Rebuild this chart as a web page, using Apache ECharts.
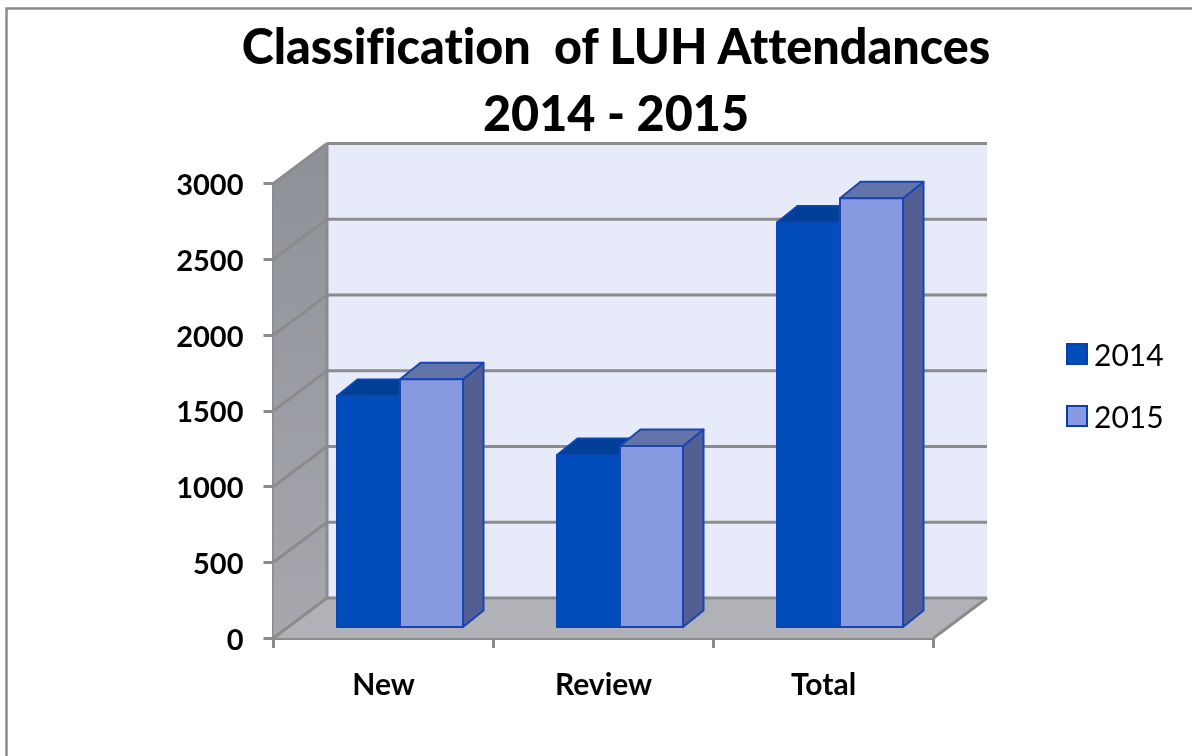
<!DOCTYPE html>
<html><head><meta charset="utf-8">
<script src="https://cdn.jsdelivr.net/npm/echarts@6/dist/echarts.min.js"></script>
<style>html,body{margin:0;padding:0;background:#fff}#c{width:1192px;height:756px;filter:blur(0.5px)}#c text{font-variant-ligatures:none}</style>
</head><body><div id="c"></div>
<script>
const categories = ['New', 'Review', 'Total'];
const values2014 = [1525, 1135, 2670];
const values2015 = [1635, 1195, 2830];
const yTicks = [0, 500, 1000, 1500, 2000, 2500, 3000];

const FONT = 'Lato';
const GRID_LINE = '#8b8b8b';
const chart = echarts.init(document.getElementById('c'), null, { renderer: 'svg' });

const DEPTH_X = 53.5, DEPTH_Y = -40;      // wall depth
const BAR_DX = 20.5, BAR_DY = -16.5;      // bar depth
const PLANE_DX = 16.5, PLANE_DY = -11;    // bars stand slightly behind the front edge
const BAR_W = 63;

function poly(points, fill, stroke, lw) {
  return { type: 'polygon', shape: { points }, style: { fill, stroke: stroke || null, lineWidth: lw || 0, lineJoin: 'round' } };
}
function line(x1, y1, x2, y2) {
  return { type: 'line', shape: { x1, y1, x2, y2 }, style: { stroke: GRID_LINE, lineWidth: 3 } };
}

function renderWalls(params, api) {
  const r = params.coordSys;
  const L = r.x, R = r.x + r.width;
  const y0 = api.coord([0, 0])[1], yT = api.coord([0, yTicks[yTicks.length - 1]])[1];
  const ch = [
    poly([[L + DEPTH_X, yT + DEPTH_Y], [R + DEPTH_X, yT + DEPTH_Y], [R + DEPTH_X, y0 + DEPTH_Y], [L + DEPTH_X, y0 + DEPTH_Y]], '#e7eaf9'),
    poly([[L, y0], [L + DEPTH_X, y0 + DEPTH_Y], [L + DEPTH_X, yT + DEPTH_Y], [L, yT]], {
      type: 'linear', x: 0, y: 0, x2: 0, y2: 1,
      colorStops: [{ offset: 0, color: '#8f9198' }, { offset: 1, color: '#a6a8ae' }]
    }),
    poly([[L, y0], [R, y0], [R + DEPTH_X, y0 + DEPTH_Y], [L + DEPTH_X, y0 + DEPTH_Y]], '#b0b2b8'),
    line(R, y0, R + DEPTH_X, y0 + DEPTH_Y),
    line(L + DEPTH_X, yT + DEPTH_Y, L + DEPTH_X, y0 + DEPTH_Y)
  ];
  yTicks.forEach(t => {
    const y = api.coord([0, t])[1];
    ch.push(line(L, y, L + DEPTH_X, y + DEPTH_Y));
    ch.push(line(L + DEPTH_X, y + DEPTH_Y, R + DEPTH_X, y + DEPTH_Y));
  });
  return { type: 'group', children: ch };
}

function barRenderer(offsetSign, front, top, side, stroke) {
  return function (params, api) {
    const p = api.coord([api.value(0), api.value(1)]);
    const b = api.coord([api.value(0), 0]);
    const x0 = p[0] + PLANE_DX + (offsetSign < 0 ? -BAR_W : 0);
    const x1 = x0 + BAR_W;
    const yt = p[1] + PLANE_DY, yb = b[1] + PLANE_DY;
    return {
      type: 'group',
      children: [
        poly([[x1, yb], [x1 + BAR_DX, yb + BAR_DY], [x1 + BAR_DX, yt + BAR_DY], [x1, yt]], side, stroke, 2),
        poly([[x0, yt], [x1, yt], [x1 + BAR_DX, yt + BAR_DY], [x0 + BAR_DX, yt + BAR_DY]], top, stroke, 2),
        poly([[x0, yb], [x1, yb], [x1, yt], [x0, yt]], front, stroke, 2)
      ]
    };
  };
}

const axisLine = { show: true, lineStyle: { color: GRID_LINE, width: 3 } };
const axisTick = { show: true, length: 10, lineStyle: { color: GRID_LINE, width: 3 } };

chart.setOption({
  animation: false,
  backgroundColor: '#ffffff',
  title: {
    text: 'Classification  of LUH Attendances\n2014 - 2015',
    left: 611, top: 6, textAlign: 'center',
    textStyle: { fontFamily: FONT, fontWeight: 900, fontSize: 48.5, lineHeight: 67, color: '#000' }
  },
  legend: {
    orient: 'vertical', left: 1061, top: 334, itemWidth: 20, itemHeight: 20, itemGap: 32, icon: 'rect',
    data: ['2014', '2015'],
    textStyle: { fontFamily: FONT, fontSize: 30, color: '#000', padding: [0, 0, 0, 2] }
  },
  grid: { left: 273.5, top: 183.5, width: 660, height: 454.5 },
  xAxis: {
    type: 'category', data: categories,
    axisLine, axisTick, splitLine: { show: false },
    axisLabel: { fontFamily: FONT, fontWeight: 'bold', fontSize: 30, color: '#000', margin: 30 }
  },
  yAxis: {
    type: 'value', min: 0, max: 3000, interval: 500,
    axisLine, axisTick, splitLine: { show: false },
    axisLabel: { fontFamily: FONT, fontWeight: 'bold', fontSize: 29, color: '#000', margin: 30, formatter: v => String(v) }
  },
  graphic: [{
    type: 'polyline', silent: true, z: -1,
    shape: { points: [[6.5, 756], [6.5, 8.5], [1192, 8.5]] },
    style: { fill: null, stroke: '#8a8a8a', lineWidth: 2.5 }
  }],
  series: [
    { type: 'custom', name: 'walls', z: 1, clip: false, silent: true, renderItem: renderWalls, encode: { x: 0, y: 1 }, data: [[0, 0]] },
    {
      type: 'custom', name: '2014', z: 3, clip: false, renderItem: barRenderer(-1, '#004dbb', '#003f96', '#003f96', '#0a46b4'),
      encode: { x: 0, y: 1 }, itemStyle: { color: '#004dbb', borderColor: '#0b3fa8', borderWidth: 2 },
      data: categories.map((c, i) => [i, values2014[i]])
    },
    {
      type: 'custom', name: '2015', z: 4, clip: false, renderItem: barRenderer(1, '#8799e0', '#6374a8', '#535f92', '#1a45b0'),
      encode: { x: 0, y: 1 }, itemStyle: { color: '#8799e0', borderColor: '#0b3fa8', borderWidth: 2 },
      data: categories.map((c, i) => [i, values2015[i]])
    }
  ]
});
</script></body></html>
